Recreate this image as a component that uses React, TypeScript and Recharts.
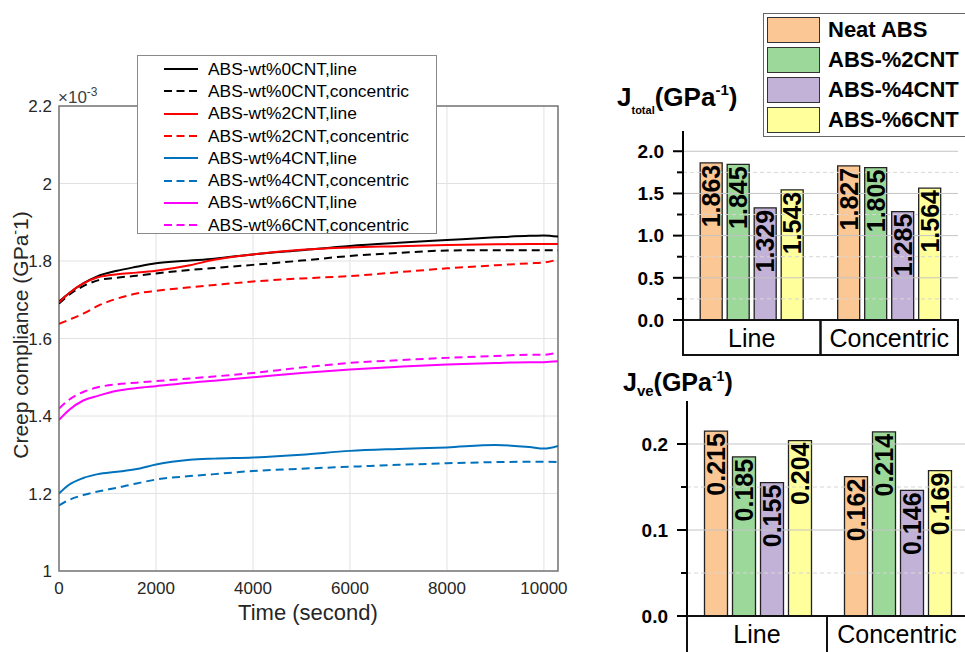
import React from 'react';
import {
  LineChart, Line, XAxis, YAxis, CartesianGrid, ReferenceArea, ReferenceLine,
  Legend, BarChart, Bar, LabelList,
} from 'recharts';

const FONT = '"Liberation Sans", Arial, Helvetica, sans-serif';

// ---------------- Creep compliance curves (x 10^-3 GPa^-1) ----------------
const times = [0, 200, 500, 800, 1200, 1600, 2000, 2700, 3200, 4000, 5000, 6000, 7000, 8000, 9000, 9700, 10000, 10290];
const abs0Line = [1.695, 1.716, 1.742, 1.761, 1.775, 1.785, 1.794, 1.801, 1.806, 1.817, 1.828, 1.839, 1.847, 1.854, 1.861, 1.865, 1.866, 1.863];
const abs0Conc = [1.690, 1.712, 1.735, 1.750, 1.757, 1.762, 1.768, 1.777, 1.782, 1.790, 1.801, 1.813, 1.821, 1.827, 1.828, 1.828, 1.828, 1.827];
const abs2Line = [1.693, 1.716, 1.742, 1.758, 1.766, 1.770, 1.775, 1.789, 1.803, 1.817, 1.829, 1.835, 1.838, 1.841, 1.843, 1.844, 1.844, 1.844];
const abs2Conc = [1.638, 1.648, 1.664, 1.684, 1.703, 1.716, 1.723, 1.732, 1.738, 1.747, 1.755, 1.761, 1.771, 1.781, 1.789, 1.794, 1.796, 1.804];
const abs4Line = [1.200, 1.222, 1.240, 1.250, 1.256, 1.263, 1.275, 1.287, 1.290, 1.293, 1.300, 1.310, 1.315, 1.319, 1.325, 1.320, 1.316, 1.323];
const abs4Conc = [1.169, 1.183, 1.196, 1.205, 1.215, 1.226, 1.236, 1.245, 1.250, 1.258, 1.264, 1.269, 1.274, 1.278, 1.281, 1.282, 1.282, 1.281];
const abs6Line = [1.390, 1.415, 1.440, 1.452, 1.465, 1.472, 1.477, 1.486, 1.491, 1.500, 1.511, 1.520, 1.527, 1.533, 1.537, 1.539, 1.539, 1.541];
const abs6Conc = [1.419, 1.441, 1.462, 1.474, 1.482, 1.486, 1.490, 1.497, 1.502, 1.511, 1.525, 1.537, 1.544, 1.550, 1.555, 1.558, 1.558, 1.564];

const creepXTicks = [0, 2000, 4000, 6000, 8000, 10000];
const creepYTicks = [1, 1.2, 1.4, 1.6, 1.8, 2, 2.2];
const creepXMax = 10290;

const creepSeries = [
  { key: 'abs0Line', name: 'ABS-wt%0CNT,line', color: '#000000', dashed: false, values: abs0Line },
  { key: 'abs0Conc', name: 'ABS-wt%0CNT,concentric', color: '#000000', dashed: true, values: abs0Conc },
  { key: 'abs2Line', name: 'ABS-wt%2CNT,line', color: '#ff0000', dashed: false, values: abs2Line },
  { key: 'abs2Conc', name: 'ABS-wt%2CNT,concentric', color: '#ff0000', dashed: true, values: abs2Conc },
  { key: 'abs4Line', name: 'ABS-wt%4CNT,line', color: '#0072bd', dashed: false, values: abs4Line },
  { key: 'abs4Conc', name: 'ABS-wt%4CNT,concentric', color: '#0072bd', dashed: true, values: abs4Conc },
  { key: 'abs6Line', name: 'ABS-wt%6CNT,line', color: '#ff00ff', dashed: false, values: abs6Line },
  { key: 'abs6Conc', name: 'ABS-wt%6CNT,concentric', color: '#ff00ff', dashed: true, values: abs6Conc },
];

const creepRows = times.map((t, i) => {
  const row: Record<string, number> = { t };
  creepSeries.forEach((s) => { row[s.key] = s.values[i]; });
  return row;
});

// ---------------- Bar charts ----------------
const categories = ['Line', 'Concentric'];
const jTotalNeat = [1.863, 1.827];
const jTotal2 = [1.845, 1.805];
const jTotal4 = [1.329, 1.285];
const jTotal6 = [1.543, 1.564];
const jVeNeat = [0.215, 0.162];
const jVe2 = [0.185, 0.214];
const jVe4 = [0.155, 0.146];
const jVe6 = [0.204, 0.169];

const totalTicks = [0, 0.25, 0.5, 0.75, 1, 1.25, 1.5, 1.75, 2];
const totalMajor = [0, 0.5, 1, 1.5, 2];
const totalMinor = [0.25, 0.75, 1.25, 1.75];
const veTicks = [0, 0.05, 0.1, 0.15, 0.2];
const veMajor = [0, 0.1, 0.2];
const veMinor = [0.05, 0.15];
const gridDashedX = [1.5, 2.5, 3.5, 6.5, 7.5, 8.5];
const gridSolidX = [5];

const barSeries = [
  { key: 'neat', name: 'Neat ABS', color: '#fbc795' },
  { key: 'cnt2', name: 'ABS-%2CNT', color: '#9dd89b' },
  { key: 'cnt4', name: 'ABS-%4CNT', color: '#c2b2d8' },
  { key: 'cnt6', name: 'ABS-%6CNT', color: '#ffff9c' },
];

const totalRows = categories.map((cat, i) => ({ cat, neat: jTotalNeat[i], cnt2: jTotal2[i], cnt4: jTotal4[i], cnt6: jTotal6[i] }));
const veRows = categories.map((cat, i) => ({ cat, neat: jVeNeat[i], cnt2: jVe2[i], cnt4: jVe4[i], cnt6: jVe6[i] }));

// ---------------- helpers ----------------
const near = (a: number, list: number[]) => list.some((b) => Math.abs(a - b) < 1e-9);

const makeValueTick = (majors: number[]) => (props: any) => {
  const { x, y, payload } = props;
  const v = Number(payload.value);
  const major = near(v, majors);
  return (
    <g>
      <line x1={x - (major ? 10 : 6)} x2={x} y1={y} y2={y} stroke="#000" strokeWidth={2} />
      {major && (
        <text x={x - 19} y={y} dy="0.36em" textAnchor="end" fontSize={19} fontWeight="bold" fontFamily={FONT} fill="#000">
          {v.toFixed(1)}
        </text>
      )}
    </g>
  );
};

const makeCatTick = (bandW: number, bandH: number) => (props: any) => {
  const { x, y, payload } = props;
  return (
    <g>
      <rect x={x - bandW / 2} y={y} width={bandW} height={bandH} fill="none" stroke="#111" strokeWidth={2} />
      <text x={x} y={y + 27} textAnchor="middle" fontSize={25} fontFamily={FONT} fill="#000">
        {payload.value}
      </text>
    </g>
  );
};

const makeBarValue = (digits: number) => (props: any) => {
  const vb = props.viewBox || {};
  const x = props.x ?? vb.x;
  const y = props.y ?? vb.y;
  const w = props.width ?? vb.width;
  const v = Number(props.value);
  if (x == null || y == null || w == null || Number.isNaN(v)) return null;
  const cx = x + w / 2;
  const top = y + 2;
  return (
    <text
      x={cx}
      y={top}
      dy="0.36em"
      transform={`rotate(-90 ${cx} ${top})`}
      textAnchor="end"
      fontSize={25}
      fontWeight="bold"
      fontFamily={FONT}
      fill="#000"
    >
      {v.toFixed(digits)}
    </text>
  );
};

const CreepLegend = (props: any) => {
  const payload = props.payload || [];
  return (
    <div style={{ border: '1px solid #8a8a8a', background: '#fff', boxSizing: 'border-box', width: 300, height: 179, paddingTop: 2 }}>
      {creepSeries.map((s) => {
        const p = payload.find((e: any) => e.dataKey === s.key);
        const color = p ? p.color : s.color;
        return (
          <div key={s.key} style={{ height: 22.3, display: 'flex', alignItems: 'center' }}>
            <svg width={34} height={6} style={{ marginLeft: 26, display: 'block' }}>
              <line x1={0} x2={34} y1={3} y2={3} stroke={color} strokeWidth={2} strokeDasharray={s.dashed ? '8 4.5' : undefined} />
            </svg>
            <span style={{ marginLeft: 10, fontSize: 17.4, fontFamily: FONT, color: '#000', whiteSpace: 'nowrap' }}>{s.name}</span>
          </div>
        );
      })}
    </div>
  );
};

const BarLegend = (props: any) => {
  const payload = props.payload || [];
  return (
    <div style={{ border: '1px solid #666', background: '#fff', boxSizing: 'border-box', width: 240, height: 124, padding: '1px 0 0 3px' }}>
      {barSeries.map((s) => {
        const p = payload.find((e: any) => e.dataKey === s.key);
        const color = p ? p.color : s.color;
        return (
          <div key={s.key} style={{ height: 30, display: 'flex', alignItems: 'center' }}>
            <div style={{ width: 53, height: 26, background: color, border: '1.5px solid #333', boxSizing: 'border-box' }} />
            <span style={{ marginLeft: 8, fontSize: 22, fontWeight: 'bold', fontFamily: FONT, color: '#000', whiteSpace: 'nowrap' }}>{s.name}</span>
          </div>
        );
      })}
    </div>
  );
};

const axisTickStyle = { fontSize: 17, fill: '#262626', fontFamily: FONT };

export default function App() {
  return (
    <div style={{ position: 'absolute', left: 0, top: 0, width: 965, height: 652, overflow: 'hidden', background: '#fff', fontFamily: FONT }}>
      {/* Left: creep compliance */}
      <div style={{ position: 'absolute', left: 0, top: 0 }}>
        <LineChart width={600} height={652} data={creepRows} margin={{ top: 106, right: 42, bottom: 51, left: 19 }}>
          <CartesianGrid stroke="#e2e2e2" strokeWidth={1} />
          <XAxis
            dataKey="t" type="number" domain={[0, creepXMax]} ticks={creepXTicks} allowDataOverflow
            height={30} tickLine={false} axisLine={false} tickSize={0} tickMargin={11} tick={axisTickStyle} interval={0}
          />
          <YAxis
            type="number" domain={[1, 2.2]} ticks={creepYTicks} allowDataOverflow
            width={40} tickLine={false} axisLine={false} tickSize={0} tickMargin={7} tick={axisTickStyle} interval={0}
          />
          {creepSeries.map((s) => (
            <Line
              key={s.key} dataKey={s.key} name={s.name} type="monotone" stroke={s.color} strokeWidth={2}
              strokeDasharray={s.dashed ? '8 5' : undefined} dot={false} isAnimationActive={false}
            />
          ))}
          <ReferenceArea x1={0} x2={creepXMax} y1={1} y2={2.2} fill="none" fillOpacity={0} stroke="#767676" strokeWidth={1.5} />
          <Legend
            layout="vertical" align="center" verticalAlign="middle" content={<CreepLegend />}
            wrapperStyle={{ left: 137, top: 55, width: 300, height: 179 }}
          />
        </LineChart>
      </div>

      {/* Top right: J total */}
      <div style={{ position: 'absolute', left: 600, top: 0 }}>
        <BarChart width={365} height={380} data={totalRows} margin={{ top: 131, right: 7, bottom: 25, left: 23 }} barCategoryGap="12.5%" barGap={5}>
          <XAxis xAxisId="g" type="number" domain={[0, 10]} hide />
          <XAxis dataKey="cat" height={35} axisLine={{ stroke: '#000', strokeWidth: 2 }} tickLine={false} tickSize={0} tickMargin={0} tick={makeCatTick(137.5, 35)} interval={0} />
          <YAxis type="number" domain={[0, 2.24]} ticks={totalTicks} allowDataOverflow width={60} axisLine={{ stroke: '#000', strokeWidth: 2 }} tickLine={false} tickSize={0} tickMargin={0} tick={makeValueTick(totalMajor)} interval={0} />
          {totalMinor.map((v) => <ReferenceLine key={'mn' + v} y={v} stroke="#d6d6d6" strokeDasharray="4 3" />)}
          {totalMajor.filter((v) => v > 0).map((v) => <ReferenceLine key={'mj' + v} y={v} stroke="#c4c4c4" />)}
          {gridDashedX.map((v) => <ReferenceLine key={'gx' + v} xAxisId="g" x={v} stroke="#d2d2d2" strokeDasharray="4 3" />)}
          {gridSolidX.map((v) => <ReferenceLine key={'gs' + v} xAxisId="g" x={v} stroke="#b4b4b4" />)}
          <ReferenceArea xAxisId="g" x1={0} x2={10} y1={0} y2={2.24} fill="none" fillOpacity={0} stroke="#333" strokeWidth={1.5} />
          {barSeries.map((s) => (
            <Bar key={s.key} dataKey={s.key} name={s.name} fill={s.color} stroke="#222" strokeWidth={1.3} isAnimationActive={false}>
              <LabelList dataKey={s.key} content={makeBarValue(3)} />
            </Bar>
          ))}
          <Legend
            layout="vertical" align="center" verticalAlign="middle" content={<BarLegend />}
            wrapperStyle={{ left: 163, top: 13, width: 240, height: 124 }}
          />
        </BarChart>
      </div>

      {/* Bottom right: J ve */}
      <div style={{ position: 'absolute', left: 600, top: 380 }}>
        <BarChart width={370} height={272} data={veRows} margin={{ top: 21, right: 3, bottom: 0, left: 27 }} barCategoryGap="12.5%" barGap={5}>
          <XAxis xAxisId="g" type="number" domain={[0, 10]} hide />
          <XAxis dataKey="cat" height={36} axisLine={{ stroke: '#000', strokeWidth: 2 }} tickLine={false} tickSize={0} tickMargin={0} tick={makeCatTick(140, 40)} interval={0} />
          <YAxis type="number" domain={[0, 0.25]} ticks={veTicks} allowDataOverflow width={60} axisLine={{ stroke: '#000', strokeWidth: 2 }} tickLine={false} tickSize={0} tickMargin={0} tick={makeValueTick(veMajor)} interval={0} />
          {veMinor.map((v) => <ReferenceLine key={'mn' + v} y={v} stroke="#d6d6d6" strokeDasharray="4 3" />)}
          {veMajor.filter((v) => v > 0).map((v) => <ReferenceLine key={'mj' + v} y={v} stroke="#c4c4c4" />)}
          {gridDashedX.map((v) => <ReferenceLine key={'gx' + v} xAxisId="g" x={v} stroke="#d2d2d2" strokeDasharray="4 3" />)}
          {gridSolidX.map((v) => <ReferenceLine key={'gs' + v} xAxisId="g" x={v} stroke="#b4b4b4" />)}
          <ReferenceArea xAxisId="g" x1={0} x2={10} y1={0} y2={0.25} fill="none" fillOpacity={0} stroke="#333" strokeWidth={1.5} />
          {barSeries.map((s) => (
            <Bar key={s.key} dataKey={s.key} name={s.name} fill={s.color} stroke="#222" strokeWidth={1.3} isAnimationActive={false}>
              <LabelList dataKey={s.key} content={makeBarValue(3)} />
            </Bar>
          ))}
        </BarChart>
      </div>

      {/* Free text */}
      <svg width={965} height={652} style={{ position: 'absolute', left: 0, top: 0, pointerEvents: 'none' }}>
        <text x={58} y={103} fontSize={17} fill="#404040" fontFamily={FONT}>
          ×10<tspan dy={-7} fontSize={12}>-3</tspan>
        </text>
        <text x={308} y={620} textAnchor="middle" fontSize={22} fill="#262626" fontFamily={FONT}>Time (second)</text>
        <text x={28} y={335} transform="rotate(-90 28 335)" textAnchor="middle" fontSize={21} fill="#262626" fontFamily={FONT}>
          Creep compliance (GPa<tspan dy={-8} fontSize={14}>-</tspan><tspan dy={8} fontSize={21}>1)</tspan>
        </text>
        <text x={617} y={106} fontSize={26} fontWeight="bold" fill="#000" fontFamily={FONT}>
          J<tspan dy={8} fontSize={11}>total</tspan><tspan dy={-8} fontSize={26}>(GPa</tspan><tspan dy={-11} fontSize={15}>-1</tspan><tspan dy={11} fontSize={26}>)</tspan>
        </text>
        <text x={623} y={391} fontSize={25} fontWeight="bold" fill="#000" fontFamily={FONT}>
          J<tspan dy={5} fontSize={15}>ve</tspan><tspan dy={-5} fontSize={25}>(GPa</tspan><tspan dy={-10} fontSize={14}>-1</tspan><tspan dy={10} fontSize={25}>)</tspan>
        </text>
      </svg>
    </div>
  );
}
